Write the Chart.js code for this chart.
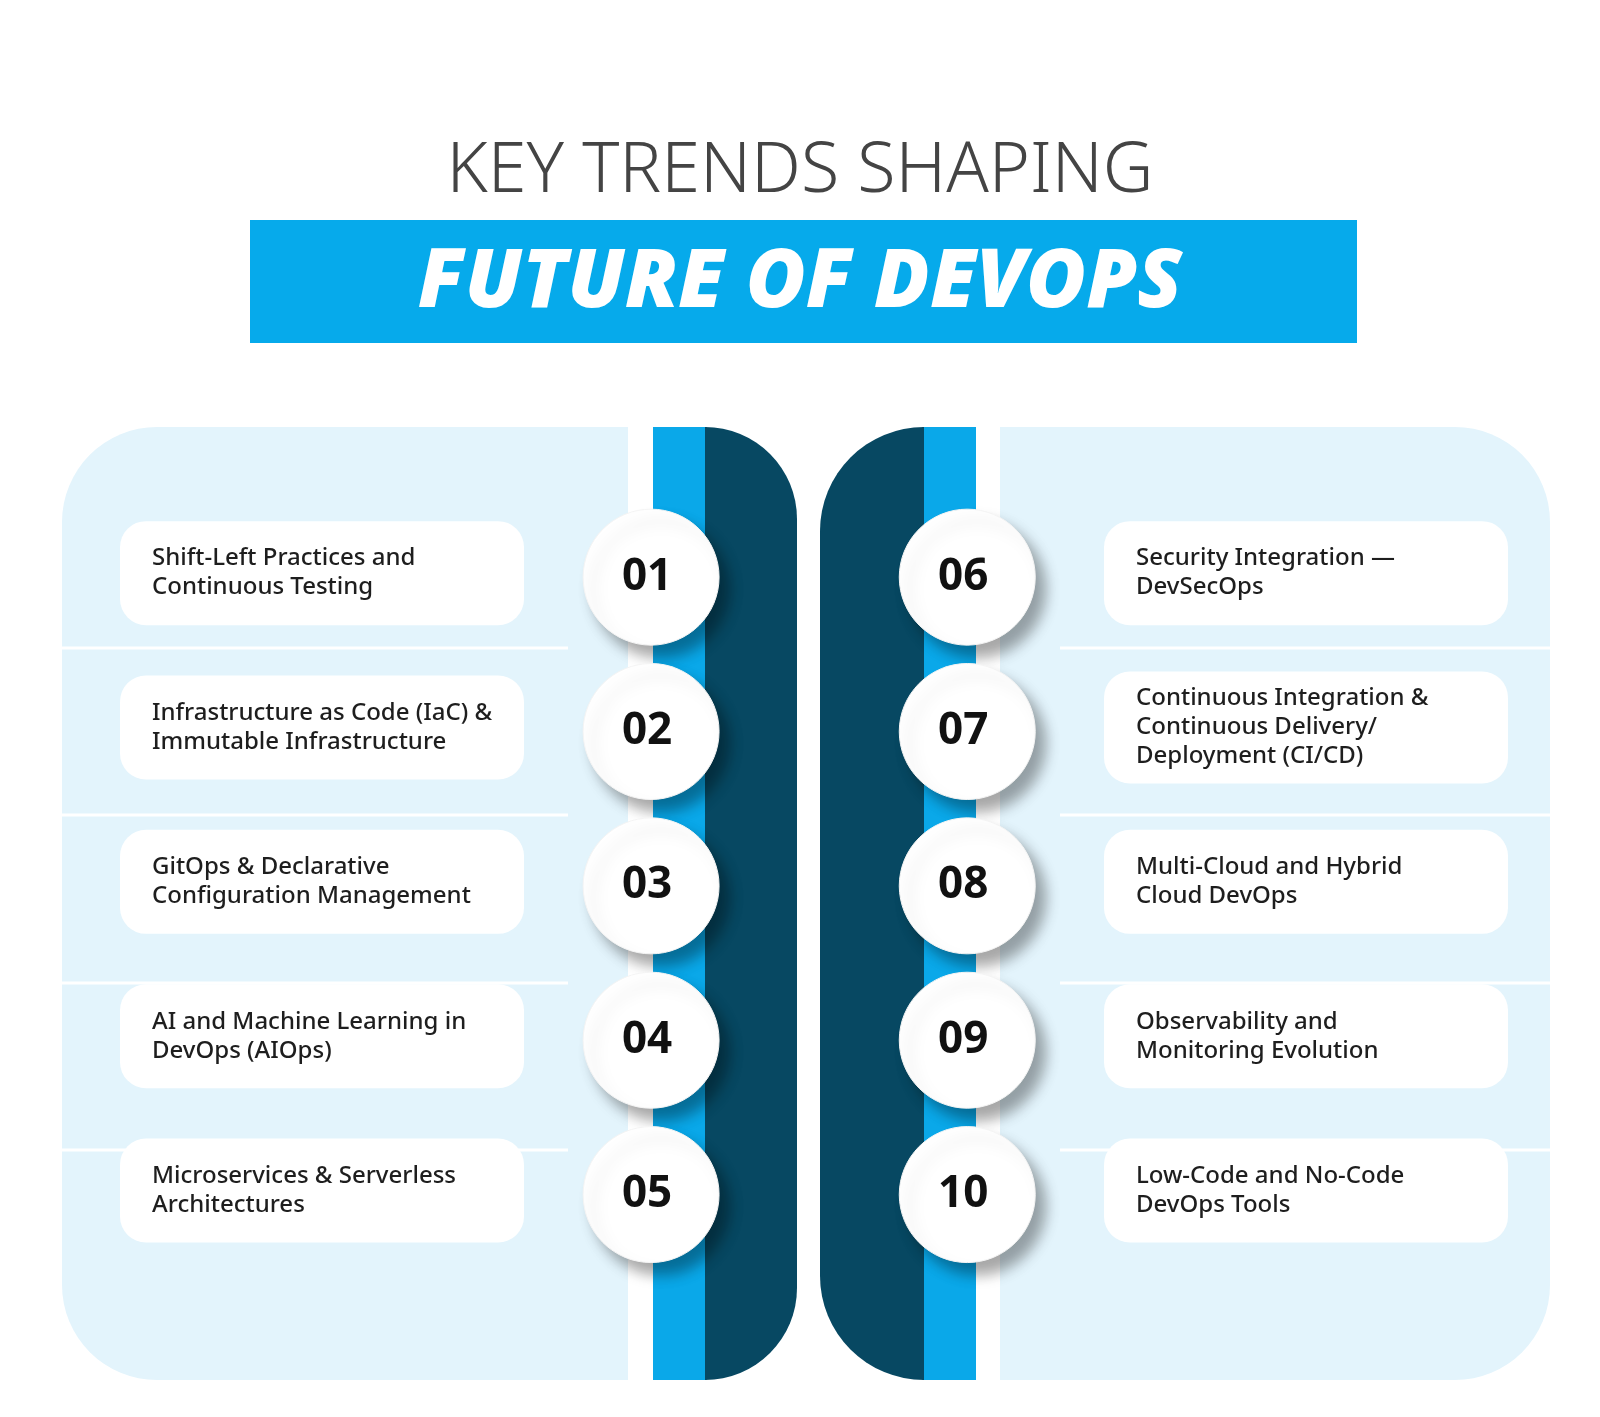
<!DOCTYPE html>
<html>
<head>
<meta charset="utf-8">
<script src="https://cdn.jsdelivr.net/npm/chart.js@4/dist/chart.umd.min.js"></script>
<style>
  html, body { margin: 0; padding: 0; background: #fff; }
  #wrap { width: 1600px; height: 1417px; }
</style>
</head>
<body>
<div id="wrap"><canvas id="chart" width="1600" height="1417"></canvas></div>
<script>
// trend data
const numbers = ['01', '02', '03', '04', '05', '06', '07', '08', '09', '10'];
const columns = [0, 0, 0, 0, 0, 1, 1, 1, 1, 1];
const rows = [0, 1, 2, 3, 4, 0, 1, 2, 3, 4];
const trends = [
    ['Shift-Left Practices and', 'Continuous Testing'],
    ['Infrastructure as Code (IaC) &', 'Immutable Infrastructure'],
    ['GitOps & Declarative', 'Configuration Management'],
    ['AI and Machine Learning in', 'DevOps (AIOps)'],
    ['Microservices & Serverless', 'Architectures'],
    ['Security Integration —', 'DevSecOps'],
    ['Continuous Integration &', 'Continuous Delivery/', 'Deployment (CI/CD)'],
    ['Multi-Cloud and Hybrid', 'Cloud DevOps'],
    ['Observability and', 'Monitoring Evolution'],
    ['Low-Code and No-Code', 'DevOps Tools']
];

function roundRect(ctx, x, y, w, h, r) {
    ctx.beginPath();
    ctx.roundRect(x, y, w, h, r);
    ctx.fill();
}

const background = {
    id: 'background',
    beforeDatasetsDraw(chart) {
        const ctx = chart.ctx;
        ctx.save();
        // title
        ctx.fillStyle = '#444';
        ctx.font = '300 70px "Noto Sans"';
        ctx.textAlign = 'center';
        ctx.textBaseline = 'middle';
        ctx.fillText('KEY TRENDS SHAPING', 800, 172);
        ctx.fillStyle = '#06aaeb';
        ctx.fillRect(250, 220, 1107, 123);
        ctx.fillStyle = '#fff';
        ctx.font = 'italic 900 82px "Noto Sans"';
        ctx.fillText('FUTURE OF DEVOPS', 800, 284);

        // panels
        ctx.fillStyle = '#e3f4fc';
        ctx.beginPath();
        ctx.roundRect(62, 427, 566, 953, [95, 0, 0, 95]);
        ctx.fill();
        ctx.beginPath();
        ctx.roundRect(1000, 427, 550, 953, [0, 95, 95, 0]);
        ctx.fill();
        ctx.strokeStyle = '#fff';
        ctx.lineWidth = 3;
        [648, 815, 983, 1150].forEach(y => {
            ctx.beginPath(); ctx.moveTo(62, y); ctx.lineTo(568, y); ctx.stroke();
            ctx.beginPath(); ctx.moveTo(1060, y); ctx.lineTo(1550, y); ctx.stroke();
        });

        // strips
        ctx.fillStyle = '#0aa8e9';
        ctx.fillRect(653, 427, 54, 953);
        ctx.fillRect(922, 427, 54, 953);
        ctx.fillStyle = '#074862';
        ctx.beginPath();
        ctx.roundRect(705, 427, 92, 953, [0, 92, 92, 0]);
        ctx.fill();
        ctx.beginPath();
        ctx.roundRect(820, 427, 104, 953, [104, 0, 0, 104]);
        ctx.fill();

        // text boxes
        const x = chart.scales.x, y = chart.scales.y;
        ctx.fillStyle = '#fff';
        ctx.font = '500 24px "Noto Sans"';
        ctx.textAlign = 'left';
        trends.forEach((lines, i) => {
            const cy = y.getPixelForValue(rows[i]) - 4;
            const bx = columns[i] === 0 ? 120 : 1104;
            const h = lines.length > 2 ? 112 : 104;
            ctx.fillStyle = '#fff';
            roundRect(ctx, bx, cy - h / 2, 404, h, 26);
            ctx.fillStyle = '#1e1e1e';
            const tx = columns[i] === 0 ? 152 : 1136;
            lines.forEach((t, j) => {
                ctx.fillText(t, tx, cy + (j - (lines.length - 1) / 2) * 29);
            });
        });
        ctx.restore();

        // shadow for circles
        ctx.save();
        ctx.shadowColor = 'rgba(0,0,0,0.35)';
        ctx.shadowBlur = 14;
        ctx.shadowOffsetX = 10;
        ctx.shadowOffsetY = 12;
    },
    afterDatasetsDraw(chart) {
        const ctx = chart.ctx;
        ctx.restore();
        ctx.save();
        const meta = chart.getDatasetMeta(0);
        ctx.fillStyle = '#111';
        ctx.font = 'bold 44px "Noto Sans"';
        ctx.textAlign = 'center';
        ctx.textBaseline = 'middle';
        meta.data.forEach((pt, i) => {
            ctx.fillText(numbers[i], pt.x - 4, pt.y);
        });
        ctx.restore();
    }
};

new Chart(document.getElementById('chart'), {
    type: 'scatter',
    data: {
        datasets: [{
            data: columns.map((c, i) => ({ x: c, y: rows[i] })),
            pointRadius: 68,
            pointHoverRadius: 68,
            backgroundColor: '#ffffff',
            borderColor: '#f4f4f4',
            borderWidth: 1
        }]
    },
    options: {
        responsive: false,
        animation: false,
        events: [],
        layout: { padding: 0 },
        plugins: { legend: { display: false }, tooltip: { enabled: false } },
        scales: {
            x: { display: false, min: -1.841, max: 2.783 },
            y: { display: false, reverse: true, min: -3.292, max: 4.994 }
        }
    },
    plugins: [background]
});
</script>
</body>
</html>
